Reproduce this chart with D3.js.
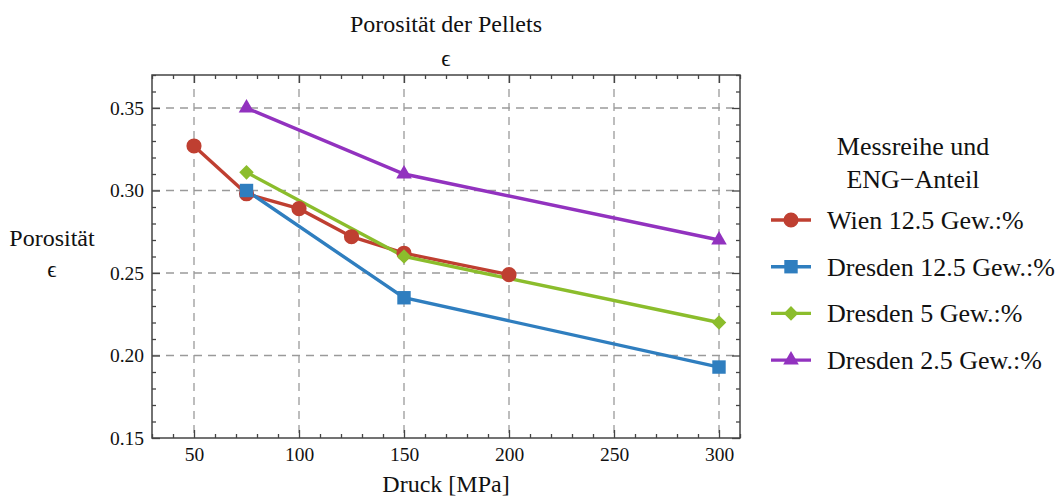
<!DOCTYPE html>
<html>
<head>
<meta charset="utf-8">
<script src="https://cdn.jsdelivr.net/npm/d3@7"></script>
<style>
  html, body { margin: 0; padding: 0; background: #fff; }
  svg text { font-family: "Liberation Serif", "DejaVu Serif", serif; fill: #111; }
</style>
</head>
<body>
<svg id="chart" width="1062" height="499"></svg>
<script>
// Pressure levels (MPa) and porosity per measurement series
const wienX = [50, 75, 100, 125, 150, 200];
const wienY = [0.327, 0.298, 0.289, 0.272, 0.262, 0.249];
const dd125X = [75, 150, 300];
const dd125Y = [0.300, 0.235, 0.193];
const dd5X = [75, 150, 300];
const dd5Y = [0.311, 0.260, 0.220];
const dd25X = [75, 150, 300];
const dd25Y = [0.350, 0.310, 0.270];

const seriesNames = ["Wien 12.5 Gew.:%", "Dresden 12.5 Gew.:%", "Dresden 5 Gew.:%", "Dresden 2.5 Gew.:%"];
const xTicks = [50, 100, 150, 200, 250, 300];
const yTicks = [0.15, 0.20, 0.25, 0.30, 0.35];

const colors = ["#bf3f31", "#2f7ebf", "#8bbd2c", "#9232bf"];
const shapes = [d3.symbolCircle, d3.symbolSquare, d3.symbolDiamond2, d3.symbolTriangle];
const sizes = [180, 180, 135, 105];

const series = [
  { name: seriesNames[0], xs: wienX, ys: wienY },
  { name: seriesNames[1], xs: dd125X, ys: dd125Y },
  { name: seriesNames[2], xs: dd5X, ys: dd5Y },
  { name: seriesNames[3], xs: dd25X, ys: dd25Y }
].map((s, i) => ({ ...s, color: colors[i], shape: shapes[i], size: sizes[i],
  pts: s.xs.map((x, j) => [x, s.ys[j]]) }));

const svg = d3.select("#chart");
const plotL = 152, plotR = 740, plotT = 75, plotB = 438;

const x = d3.scaleLinear().domain([30, 310]).range([plotL, plotR]);
const y = d3.scaleLinear().domain([0.15, 0.37]).range([plotB, plotT]);

// dashed grid
const grid = svg.append("g").attr("stroke", "#9a9a9a").attr("stroke-width", 1.3)
  .attr("stroke-dasharray", "8,6");
grid.selectAll("line.gx").data(xTicks).join("line").attr("class", "gx")
  .attr("x1", d => x(d)).attr("x2", d => x(d)).attr("y1", plotT).attr("y2", plotB);
grid.selectAll("line.gy").data(yTicks.filter(d => d > 0.15)).join("line").attr("class", "gy")
  .attr("y1", d => y(d)).attr("y2", d => y(d)).attr("x1", plotL).attr("x2", plotR);

// frame axes with major/minor ticks on all four sides
const minorX = d3.range(30, 311, 10).filter(d => !xTicks.includes(d));
const minorY = d3.range(15, 38, 1).map(d => d / 100).filter(d => !yTicks.some(t => Math.abs(t - d) < 1e-9));

function frameAxis(axisFn, scale, transform, major, minor, fmt) {
  const g = svg.append("g").attr("transform", transform);
  g.call(axisFn(scale).tickValues(major).tickSize(8).tickFormat(fmt || (() => "")));
  g.call(a => a.select(".domain").remove());
  const g2 = svg.append("g").attr("transform", transform);
  g2.call(axisFn(scale).tickValues(minor).tickSize(4).tickFormat(""));
  g2.call(a => a.select(".domain").remove());
  [g, g2].forEach(gg => gg.selectAll("line").attr("stroke", "#444").attr("stroke-width", 1.3));
  g.selectAll("text").style("font-family", "Liberation Serif, serif").style("font-size", "19.5px").attr("fill", "#111");
  return g;
}
// ticks point inward: bottom axis uses axisTop, etc.
const gb = frameAxis(d3.axisTop, x, `translate(0,${plotB})`, xTicks, minorX, d3.format("d"));
gb.selectAll("text").attr("y", 9).attr("dy", "0.71em");
frameAxis(d3.axisBottom, x, `translate(0,${plotT})`, xTicks, minorX, null);
const gl = frameAxis(d3.axisRight, y, `translate(${plotL},0)`, yTicks, minorY, d3.format(".2f"));
gl.selectAll("text").attr("x", -8).attr("text-anchor", "end");
frameAxis(d3.axisLeft, y, `translate(${plotR},0)`, yTicks, minorY, null);

svg.append("rect").attr("x", plotL).attr("y", plotT).attr("width", plotR - plotL).attr("height", plotB - plotT)
  .attr("fill", "none").attr("stroke", "#444").attr("stroke-width", 1.5);

// series lines and markers
const line = d3.line().x(d => x(d[0])).y(d => y(d[1]));
series.forEach(s => {
  svg.append("path").datum(s.pts).attr("d", line)
    .attr("fill", "none").attr("stroke", s.color).attr("stroke-width", 3.4);
});
series.forEach(s => {
  svg.append("g").selectAll("path").data(s.pts).join("path")
    .attr("transform", d => `translate(${x(d[0])},${y(d[1])})`)
    .attr("d", d3.symbol().type(s.shape).size(s.size))
    .attr("fill", s.color);
});

// titles
svg.append("text").attr("x", 446).attr("y", 32).attr("text-anchor", "middle")
  .style("font-size", "24px").text("Porosität der Pellets");
svg.append("text").attr("x", 446).attr("y", 66).attr("text-anchor", "middle")
  .style("font-size", "23px").text("ϵ");
svg.append("text").attr("x", 446).attr("y", 492).attr("text-anchor", "middle")
  .style("font-size", "24px").text("Druck [MPa]");
svg.append("text").attr("x", 52).attr("y", 246).attr("text-anchor", "middle")
  .style("font-size", "24px").text("Porosität");
svg.append("text").attr("x", 52).attr("y", 277).attr("text-anchor", "middle")
  .style("font-size", "23px").text("ϵ");

// legend
const lg = svg.append("g");
lg.append("text").attr("x", 913).attr("y", 155).attr("text-anchor", "middle")
  .style("font-size", "26px").text("Messreihe und");
lg.append("text").attr("x", 913).attr("y", 188).attr("text-anchor", "middle")
  .style("font-size", "26px").text("ENG\u2212Anteil");
series.forEach((s, i) => {
  const yy = 220 + i * 46.7;
  lg.append("line").attr("x1", 771).attr("x2", 811).attr("y1", yy).attr("y2", yy)
    .attr("stroke", s.color).attr("stroke-width", 3.4);
  lg.append("path").attr("transform", `translate(791,${yy})`)
    .attr("d", d3.symbol().type(s.shape).size(s.size)).attr("fill", s.color);
  lg.append("text").attr("x", 827).attr("y", yy + 9)
    .style("font-size", "26px").text(s.name);
});
</script>
</body>
</html>
